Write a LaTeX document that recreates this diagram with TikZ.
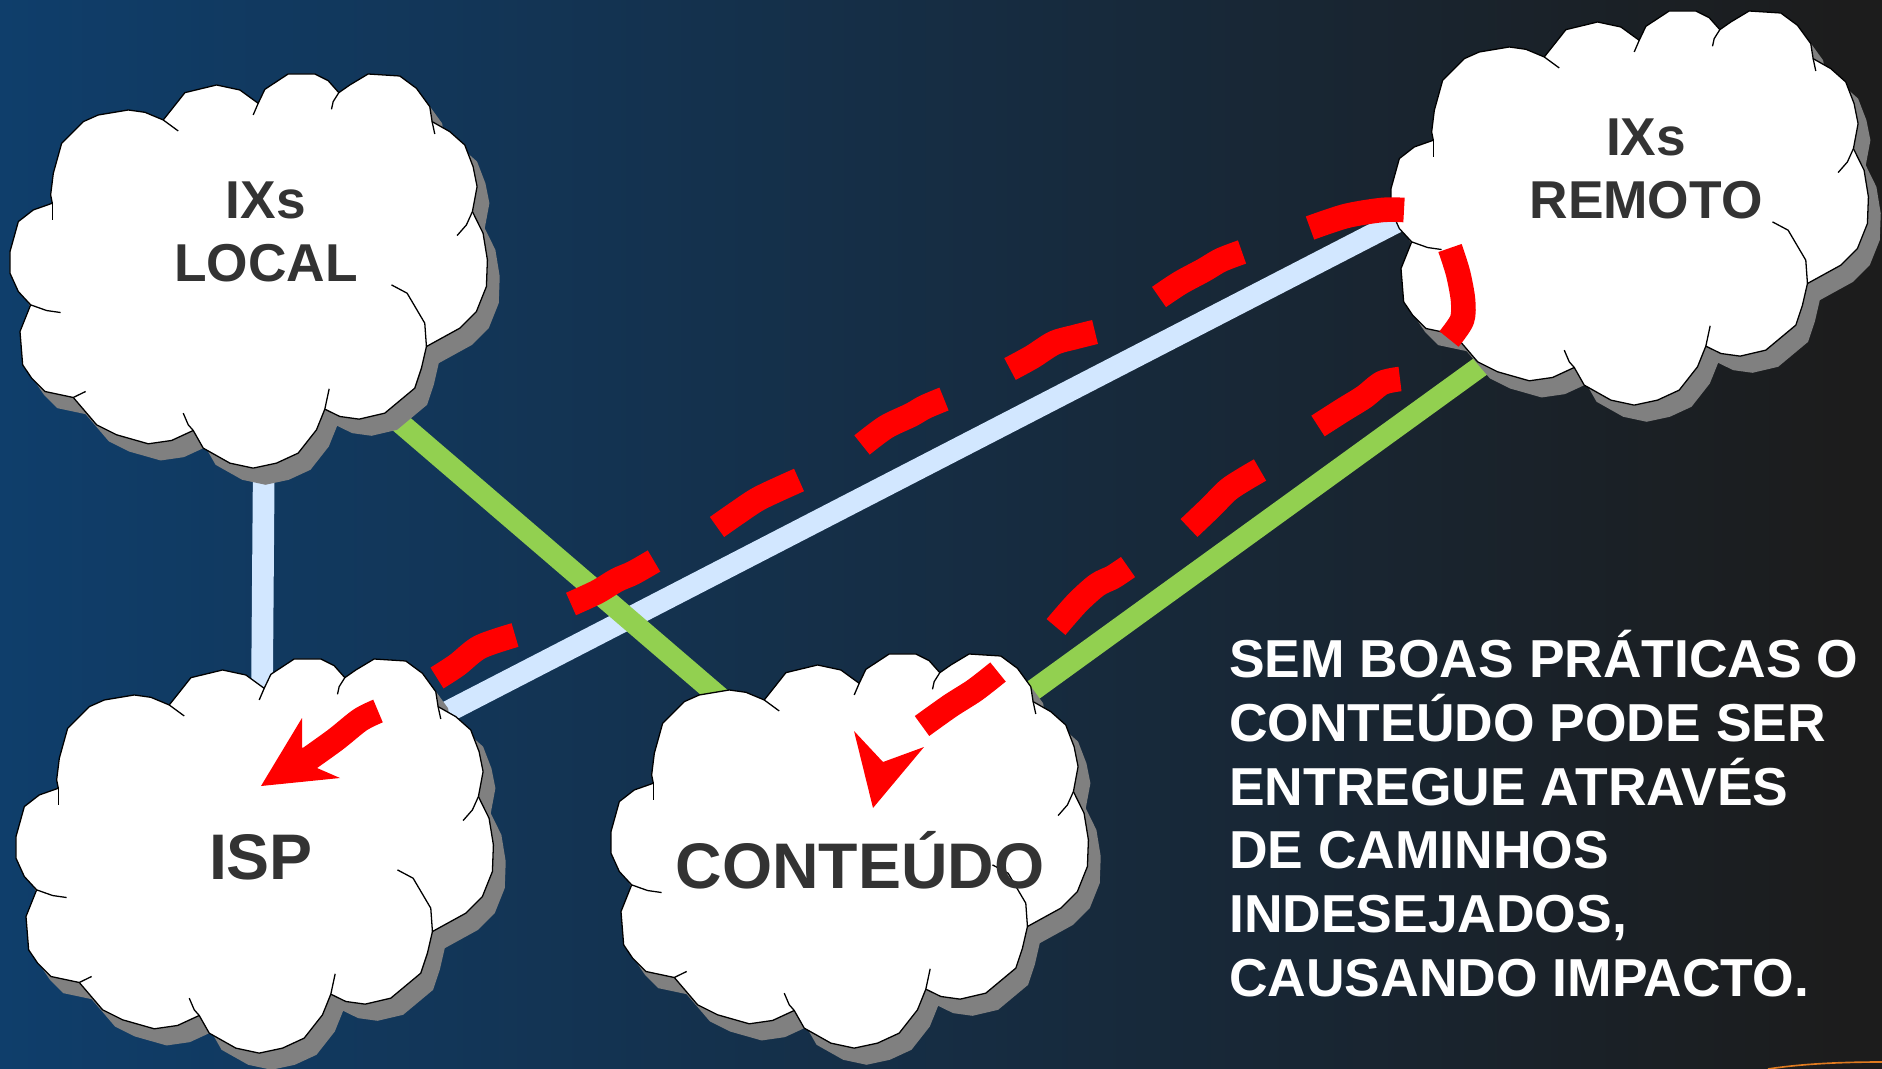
\documentclass[tikz,border=0pt]{standalone}
\usepackage{fontspec}
\setmainfont{Liberation Sans}
\definecolor{fundoA}{HTML}{0F3E6B}
\definecolor{fundoB}{HTML}{1C1C1C}
\definecolor{azulclaro}{HTML}{D2E7FF}
\definecolor{verde}{HTML}{92D050}
\definecolor{tinta}{HTML}{333333}
\definecolor{laranja}{HTML}{E07B20}
\tikzset{
  sombra/.style={fill=black!50},
  corpo/.style={fill=white,draw=black,line width=1.1pt,line join=round},
  dobra/.style={draw=black,line width=1.1pt},
  linkA/.style={draw=azulclaro,line width=18.5pt},
  linkV/.style={draw=verde,line width=18pt},
  rota/.style={draw=red,line width=21pt,line join=round},
  seta/.style={fill=red},
  rotulo/.style={text=tinta,font=\bfseries\fontsize{45.5pt}{54.4pt}\selectfont,align=center,inner sep=0pt},
  grande/.style={text=tinta,font=\bfseries\fontsize{55pt}{60pt}\selectfont,inner sep=0pt,anchor=base}
}
\def\contorno{(152,405) -- (160,340) -- (185,250) -- (250,185) -- (295,165) -- (385,150) -- (435,157) -- (490,180)
  -- (555,98) -- (650,75) -- (720,90) -- (775,130) -- (795,88) -- (865,42) -- (945,42) -- (985,62) -- (1017,98)
  -- (1050,75) -- (1105,42) -- (1200,48) -- (1250,85) -- (1290,140) -- (1297,185) -- (1350,215) -- (1395,255)
  -- (1420,320) -- (1432,380) -- (1418,455) -- (1450,520) -- (1463,600) -- (1460,680) -- (1430,755) -- (1380,805)
  -- (1280,860) -- (1265,925) -- (1245,985) -- (1155,1060) -- (1078,1078) -- (1020,1070) -- (975,1048)
  -- (950,1110) -- (895,1180) -- (830,1210) -- (760,1225) -- (690,1210) -- (610,1165) -- (580,1112) -- (515,1142)
  -- (445,1152) -- (350,1125) -- (290,1095) -- (220,1013) -- (135,995) -- (95,955) -- (68,915) -- (60,815)
  -- (92,735) -- (55,695) -- (30,640) -- (30,575) -- (55,485) -- (100,450) -- (157,430) -- cycle}
\newcommand{\nuvem}[2]{%
  \begin{scope}[shift={(#1,#2)},x=.01cm,y=-.01cm]
    \fill[sombra,shift={(37,50)}] \contorno;
    \draw[corpo] \contorno;
    \draw[dobra] (490,180) -- (535,213);
    \draw[dobra] (775,130) -- (760,165);
    \draw[dobra] (1017,98) -- (1000,125) -- (995,148);
    \draw[dobra] (1297,185) -- (1305,222);
    \draw[dobra] (1418,455) -- (1400,495) -- (1372,527);
    \draw[dobra] (1280,860) -- (1275,790) -- (1222,700) -- (1175,675);
    \draw[dobra] (975,1048) -- (988,987);
    \draw[dobra] (580,1112) -- (565,1095) -- (550,1060);
    \draw[dobra] (220,1013) -- (257,995);
    \draw[dobra] (92,735) -- (140,752) -- (182,758);
    \draw[dobra] (157,430) -- (157,480);
  \end{scope}}

\begin{document}
\begin{tikzpicture}[x=.03cm,y=-.03cm]
    \useasboundingbox (0,0) rectangle (1882,1069);
    \fill[fundoB] (1840,0) rectangle (1882,1069);
    \shade[left color=fundoA,right color=fundoB] (0,0) rectangle (1850,1069);
    \draw[laranja,line width=1.4pt] (1768,1069) .. controls (1800,1064) and (1840,1062) .. (1882,1062);

    % pontas das ligacoes, por baixo das nuvens
    \coordinate (localA) at (264,440);
    \coordinate (ispA) at (262,690);
    \coordinate (ispB) at (420,726);
    \coordinate (remotoB) at (1420,210);
    \coordinate (localV) at (370,397);
    \coordinate (conteudoV) at (730,706);
    \coordinate (conteudoW) at (1010,707);
    \coordinate (remotoW) at (1510,345);

    \draw[linkA] (localA) -- (ispA);
    \draw[linkA] (ispB) -- (remotoB);
    \draw[linkV] (localV) -- (conteudoV);
    \draw[linkV] (conteudoW) -- (remotoW);

    \nuvem{0}{60}
    \nuvem{1381}{-3}
    \nuvem{6}{645}
    \nuvem{601}{640}

    % rota indesejada ate o ISP
    \draw[rota] plot[smooth,tension=.5] coordinates {(1310,228) (1346,216) (1382,210) (1404,210)};
    \draw[rota] plot[smooth,tension=.5] coordinates {(1159,297) (1180,283) (1204,270) (1221,260) (1242,252)};
    \draw[rota] plot[smooth,tension=.5] coordinates {(1010,369) (1032,357) (1054,343) (1075,337) (1095,332)};
    \draw[rota] plot[smooth,tension=.5] coordinates {(862,445) (886,427) (911,415) (925,407) (944,399)};
    \draw[rota] plot[smooth,tension=.5] coordinates {(717,527) (737,513) (760,498) (799,480)};
    \draw[rota] plot[smooth,tension=.5] coordinates {(571,604) (597,592) (617,580) (633,573) (654,561)};
    \draw[rota] plot[smooth,tension=.5] coordinates {(437,678) (457,665) (480,647) (515,635)};
    \draw[rota] plot[smooth,tension=.5] coordinates {(378,711) (360,720) (335,740) (300,765)};
    \fill[seta] (261,786) -- (302,718) -- (302,747) -- (317,768) -- (340,778) -- cycle;

    % rota indesejada ate o conteudo
    \draw[rota] plot[smooth,tension=.5] coordinates {(1450,248) (1458,273) (1463,300) (1462,320) (1449,339)};
    \draw[rota] plot[smooth,tension=.5] coordinates {(1318,426) (1343,410) (1364,397) (1382,383) (1400,379)};
    \draw[rota] plot[smooth,tension=.5] coordinates {(1189,528) (1210,508) (1228,490) (1243,480) (1260,470)};
    \draw[rota] plot[smooth,tension=.5] coordinates {(1056,627) (1077,603) (1097,585) (1113,577) (1128,567)};
    \draw[rota] plot[smooth,tension=.5] coordinates {(922,726) (950,706) (975,690) (998,672)};
    \fill[seta] (873,808) -- (854,731) -- (883,762) -- (924,747) -- cycle;

    \node[rotulo] (local) at (266,232) {IXs\\LOCAL};
    \node[rotulo] (remoto) at (1646,169) {IXs\\REMOTO};
    \node[grande] (isp) at (261,879) {ISP};
    \node[grande] (conteudo) at (860,888) {CONTEÚDO};
    \node[text=white,font=\bfseries\fontsize{45.6pt}{54.4pt}\selectfont,align=left,anchor=north west,inner sep=0pt] (aviso) at (1229,630)
      {SEM BOAS PRÁTICAS O\\CONTEÚDO PODE SER\\ENTREGUE ATRAVÉS\\DE CAMINHOS\\INDESEJADOS,\\CAUSANDO IMPACTO.};
\end{tikzpicture}
\end{document}
